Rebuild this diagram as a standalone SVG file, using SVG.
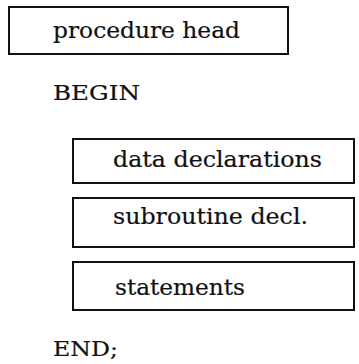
<svg xmlns="http://www.w3.org/2000/svg" width="359" height="364" viewBox="0 0 359 364">
<style>
.box{fill:none;stroke:#111;stroke-width:2}
.t{font-family:"DejaVu Serif","Liberation Serif",serif;font-size:23px;fill:#111;stroke:#111;stroke-width:0.2}
.c{font-size:21px}
</style>
<rect width="359" height="364" fill="#fff"/>
<g id="head"><rect class="box" x="9" y="7" width="279" height="47"/><text class="t" x="53" y="38" textLength="187" lengthAdjust="spacingAndGlyphs">procedure head</text></g>
<g id="begin"><text class="t c" x="53" y="100" textLength="87" lengthAdjust="spacingAndGlyphs">BEGIN</text></g>
<g id="data"><rect class="box" x="73" y="139" width="281" height="44"/><text class="t" x="113" y="167" textLength="209" lengthAdjust="spacingAndGlyphs">data declarations</text></g>
<g id="sub"><rect class="box" x="73" y="198" width="281" height="49"/><text class="t" x="113" y="224" textLength="195" lengthAdjust="spacingAndGlyphs">subroutine decl.</text></g>
<g id="stmt"><rect class="box" x="73" y="262" width="281" height="48"/><text class="t" x="115" y="295" textLength="130" lengthAdjust="spacingAndGlyphs">statements</text></g>
<g id="end"><text class="t c" x="53" y="356" textLength="65" lengthAdjust="spacingAndGlyphs">END;</text></g>
<g id="connectors"/>
</svg>
